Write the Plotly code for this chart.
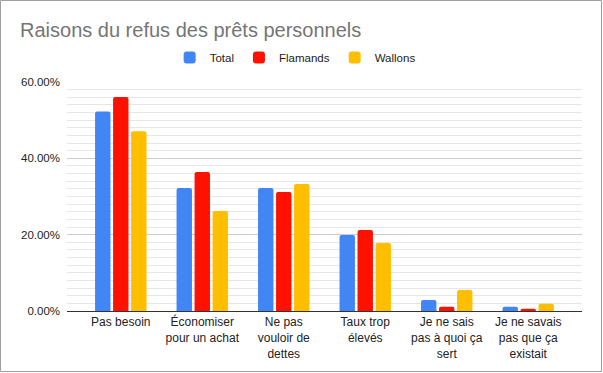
import plotly.graph_objects as go

categories = ["Pas besoin", "Économiser<br>pour un achat", "Ne pas<br>vouloir de<br>dettes",
              "Taux trop<br>élevés", "Je ne sais<br>pas à quoi ça<br>sert", "Je ne savais<br>pas que ça<br>existait"]
total = [0.523, 0.322, 0.322, 0.199, 0.029, 0.011]
flamands = [0.561, 0.364, 0.312, 0.212, 0.011, 0.006]
wallons = [0.471, 0.262, 0.333, 0.178, 0.055, 0.019]
series_names = ["Total", "Flamands", "Wallons"]
colors = ["#4285f4", "#ff1100", "#ffbf00"]

W, H = 603, 373
ml, mr, mt, mb = 67, 21, 82, 62
pw, ph = W - ml - mr, H - mt - mb

fig = go.Figure()
for name, vals, c in zip(series_names, [total, flamands, wallons], colors):
    fig.add_trace(go.Bar(x=categories, y=vals, name=name, marker_color=c,
                         marker_line_width=0))

fig.update_layout(
    width=W, height=H,
    margin=dict(l=ml, r=mr, t=mt, b=mb, autoexpand=False),
    paper_bgcolor="white", plot_bgcolor="white",
    font=dict(family="Liberation Sans, Arial, sans-serif", size=12, color="#222222"),
    title=dict(text="Raisons du refus des prêts personnels", x=20 / W, xanchor="left",
               y=1 - 30 / H, yanchor="middle",
               font=dict(size=20, color="#757575")),
    legend=dict(orientation="h", x=0.443, xanchor="center", y=(H - mb - 57.5) / ph,
                yanchor="middle", font=dict(size=11.5, color="#222222"),
                itemwidth=30, tracegroupgap=0),
    bargap=0.337, bargroupgap=0.145, barcornerradius=2,
    showlegend=True,
)
fig.update_xaxes(showline=True, linecolor="#333333", linewidth=1, ticks="",
                 range=[-0.66, 5.66], tickfont=dict(size=12, color="#222222"),
                 ticklabelstandoff=0)
fig.update_yaxes(range=[0, 0.6], dtick=0.2, tickformat=".2%", gridcolor="#cccccc",
                 zeroline=False, ticks="", tickfont=dict(size=11.5, color="#222222"),
                 ticklabelstandoff=6,
                 minor=dict(dtick=0.02, showgrid=True, gridcolor="#e6e6e6"))

# outer frame of the chart
fig.add_shape(type="rect", xref="paper", yref="paper",
              x0=(0.5 - ml) / pw, x1=(W - 1.5 - ml) / pw,
              y0=((H - mb) - (H - 1.5)) / ph, y1=((H - mb) - 0.5) / ph,
              line=dict(color="#9e9e9e", width=1), layer="above")
fig.write_html("out.html", config={"displayModeBar": False},
               post_script="document.body.style.margin='0';document.body.style.overflow='hidden';")
